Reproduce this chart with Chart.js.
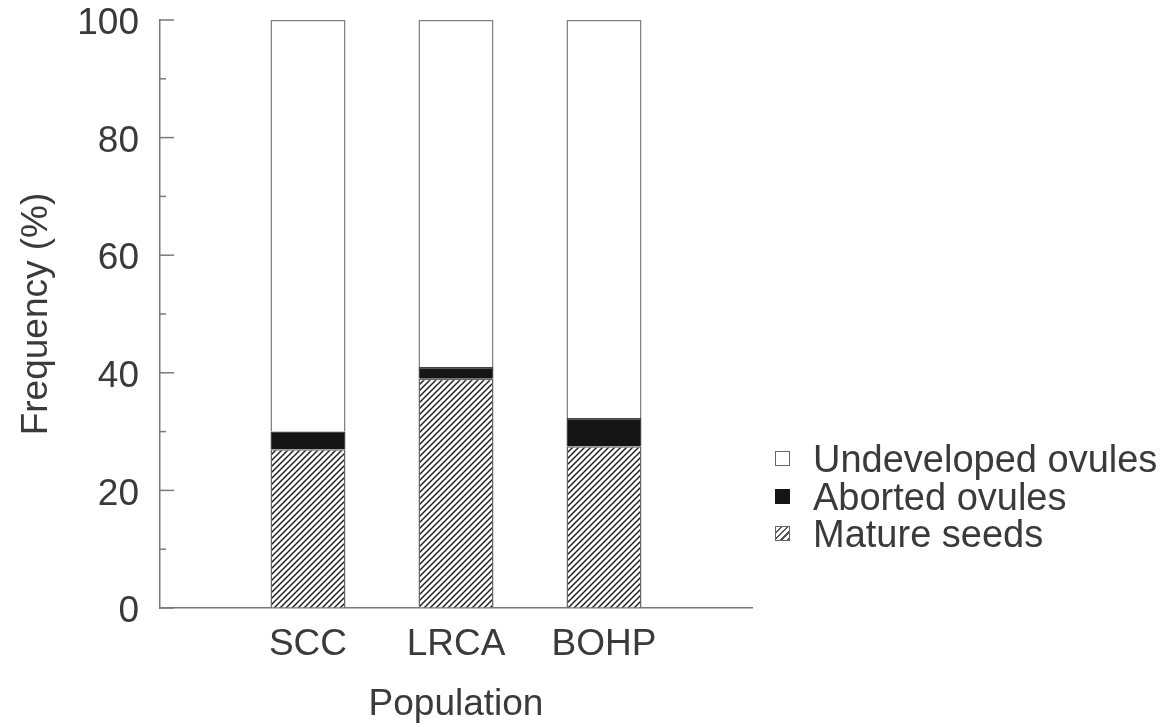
<!DOCTYPE html>
<html>
<head>
<meta charset="utf-8">
<script src="https://cdn.jsdelivr.net/npm/chart.js@4/dist/chart.umd.min.js"></script>
<style>
  body { margin: 0; background: #fff; }
  #wrap { position: relative; width: 1171px; height: 727px; }
  #legend {
    position: absolute; left: 775px; top: 441px;
    font-family: 'Liberation Sans', Arial, sans-serif; font-size: 38px;
    line-height: 37.5px; color: #3a3a3a;
  }
  #legend .row { position: relative; padding-left: 38px; white-space: nowrap; }
  #legend .box {
    position: absolute; left: 0; top: 10px; width: 13px; height: 13px;
    border: 1px solid #666;
  }
</style>
</head>
<body>
<div id="wrap">
  <canvas id="freqChart"></canvas>
  <div id="legend"></div>
</div>
<script>
// values (%)
var categories = ['SCC', 'LRCA', 'BOHP'];
var matureSeeds = [27, 39, 27.5];
var abortedOvules = [3, 2, 4.8];
var undevelopedOvules = [70, 59, 67.7];
var majorTicks = [0, 20, 40, 60, 80, 100];
var minorTicks = [10, 30, 50, 70, 90];

var axisColor = '#7a7a7a';
var textColor = '#3a3a3a';
var font = "'Liberation Sans', Arial, sans-serif";

// diagonal hatch for mature seeds
var tile = document.createElement('canvas');
tile.width = 6; tile.height = 6;
var tctx = tile.getContext('2d');
tctx.fillStyle = '#fff';
tctx.fillRect(0, 0, 6, 6);
tctx.strokeStyle = '#222';
tctx.lineWidth = 1.5;
tctx.beginPath();
tctx.moveTo(-1, 7); tctx.lineTo(7, -1);
tctx.moveTo(-1, 1); tctx.lineTo(1, -1);
tctx.moveTo(5, 7); tctx.lineTo(7, 5);
tctx.stroke();

var ctx = document.getElementById('freqChart').getContext('2d');
var hatch = ctx.createPattern(tile, 'repeat');

function points(values) {
    return values.map(function(v, i) { return {x: i + 1, y: v}; });
}

// inward tick marks on the y axis
var innerTicks = {
    id: 'innerTicks',
    afterDraw: function(chart) {
        var y = chart.scales.y;
        var x0 = chart.chartArea.left;
        var c = chart.ctx;
        c.save();
        c.strokeStyle = axisColor;
        c.lineWidth = 1.5;
        majorTicks.forEach(function(v) {
            var py = y.getPixelForValue(v);
            c.beginPath(); c.moveTo(x0, py); c.lineTo(x0 + 14, py); c.stroke();
        });
        minorTicks.forEach(function(v) {
            var py = y.getPixelForValue(v);
            c.beginPath(); c.moveTo(x0, py); c.lineTo(x0 + 6, py); c.stroke();
        });
        c.restore();
    }
};

var datasets = [{
    label: 'Mature seeds',
    data: points(matureSeeds),
    backgroundColor: hatch,
    borderColor: '#666',
    borderWidth: 1.5
}, {
    label: 'Aborted ovules',
    data: points(abortedOvules),
    backgroundColor: '#151515',
    borderColor: '#444',
    borderWidth: 1.5
}, {
    label: 'Undeveloped ovules',
    data: points(undevelopedOvules),
    backgroundColor: '#fff',
    borderColor: '#808080',
    borderWidth: 1.5
}];

// hidden grid so tickLength gives the label gap without extra top padding
var hiddenGrid = function(len) {
    return { display: true, drawOnChartArea: false, drawTicks: true, tickLength: len, tickColor: 'rgba(0,0,0,0)' };
};

var freqChart = new Chart(ctx, {
    type: 'bar',
    data: { datasets: datasets },
    options: {
        responsive: true,
        maintainAspectRatio: false,
        animation: false,
        barPercentage: 0.507,
        categoryPercentage: 1,
        layout: { padding: { top: 20, right: 419, left: 0, bottom: 0 } },
        scales: {
            x: {
                type: 'linear',
                stacked: true,
                offset: false,
                min: 0,
                max: 4,
                grid: hiddenGrid(18),
                border: { display: true, color: axisColor, width: 1.5 },
                ticks: {
                    stepSize: 1,
                    padding: 0,
                    color: textColor,
                    font: { family: font, size: 37, lineHeight: 1 },
                    callback: function(v) { return categories[v - 1] || ''; }
                },
                title: {
                    display: true,
                    text: 'Population',
                    color: textColor,
                    font: { family: font, size: 37 },
                    padding: { top: 0, bottom: 0 }
                },
                afterFit: function(scale) { scale.height = 119; }
            },
            y: {
                stacked: true,
                min: 0,
                max: 100,
                grid: hiddenGrid(21),
                border: { display: true, color: axisColor, width: 1.5 },
                afterBuildTicks: function(scale) {
                    scale.ticks = majorTicks.map(function(v) { return {value: v}; });
                },
                ticks: {
                    padding: 0,
                    labelOffset: 4,
                    color: textColor,
                    font: { family: font, size: 37, lineHeight: 1 }
                },
                title: {
                    display: true,
                    text: 'Frequency (%)',
                    color: textColor,
                    font: { family: font, size: 37 },
                    padding: { top: 15, bottom: 0 }
                },
                afterFit: function(scale) { scale.width = 160; }
            }
        },
        plugins: {
            legend: { display: false },
            tooltip: { enabled: false }
        }
    },
    plugins: [innerTicks]
});

// legend, top to bottom in reverse stacking order
var legendBox = {
    'Undeveloped ovules': 'background:#fff;',
    'Aborted ovules': 'background:#151515;border-color:#151515;',
    'Mature seeds': 'background:repeating-linear-gradient(135deg,#fff 0 3px,#555 3px 4.5px);'
};
var legend = document.getElementById('legend');
datasets.slice().reverse().forEach(function(ds) {
    var row = document.createElement('div');
    row.className = 'row';
    row.innerHTML = '<span class="box" style="' + legendBox[ds.label] + '"></span>' + ds.label;
    legend.appendChild(row);
});
</script>
</body>
</html>
